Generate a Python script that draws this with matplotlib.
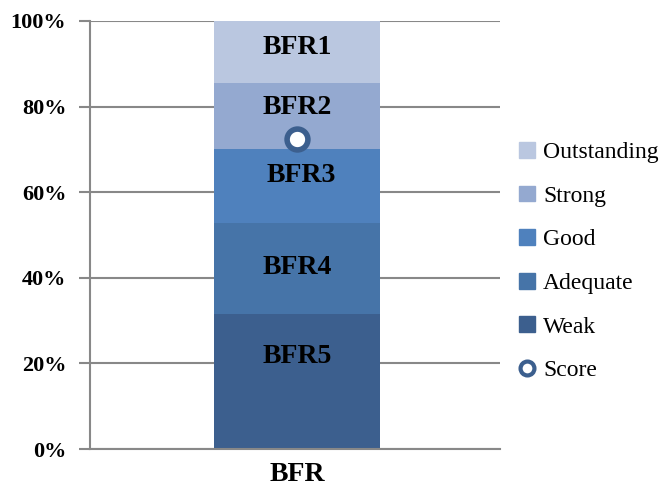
import matplotlib
matplotlib.use("Agg")
import matplotlib.pyplot as plt
from matplotlib.lines import Line2D
from matplotlib.patches import Patch

# data
category = "BFR"
bands = ["Weak", "Adequate", "Good", "Strong", "Outstanding"]
band_sizes = [31.6, 21.3, 17.2, 15.5, 14.4]
band_labels = ["BFR5", "BFR4", "BFR3", "BFR2", "BFR1"]
score = 72.4
yticks = [0, 20, 40, 60, 80, 100]

colors = ["#3C5F8E", "#4674A8", "#4F81BD", "#94A9D0", "#BAC7E0"]
label_y = [21.7, 42.3, 64.0, 79.9, 93.9]
label_dx = [0, 0, 0.01, 0, 0]

plt.rcParams['font.family'] = ['Liberation Serif', 'DejaVu Serif']

fig = plt.figure(figsize=(6.68, 4.86), dpi=100)
ax = fig.add_axes([0.1347, 0.0761, 0.614, 0.8807])

bottom = 0
for size, c, name in zip(band_sizes, colors, bands):
    ax.bar(0, size, width=0.405, bottom=bottom, color=c, zorder=2, label=name)
    bottom += size

for lab, y, dx in zip(band_labels, label_y, label_dx):
    ax.text(dx, y, lab, ha='center', va='center', fontsize=20, fontweight='bold', zorder=4)

ax.plot([0], [score], 'o', ms=15, mfc='white', mec='#3C5F8E', mew=4, zorder=5)

ax.set_xlim(-0.505, 0.495)
ax.set_ylim(0, 100)
ax.set_yticks(yticks)
ax.set_yticklabels(["%d%%" % t for t in yticks], fontsize=16, fontweight='bold')
ax.set_xticks([0])
ax.set_xticklabels([category], fontsize=20, fontweight='bold')
ax.tick_params(axis='x', length=0, pad=9)
ax.tick_params(axis='y', length=8, width=1.5, color='#888888', pad=9)
ax.yaxis.grid(True, color='#888888', lw=1.5, zorder=0)
for s in ['top', 'right']:
    ax.spines[s].set_visible(False)
for s in ['left', 'bottom']:
    ax.spines[s].set_color('#888888')
    ax.spines[s].set_linewidth(1.5)

handles = [Patch(color=c) for c in colors[::-1]]
handles.append(Line2D([], [], marker='o', ls='none', ms=10, mfc='white', mec='#3C5F8E', mew=3))
labels = bands[::-1] + ["Score"]
ax.legend(handles, labels, loc='center left', bbox_to_anchor=(0.995, 0.438), frameon=False,
          fontsize=17, labelspacing=0.95, handlelength=0.65, handleheight=0.65, handletextpad=0.35)

fig.savefig("out.png", dpi=100)
